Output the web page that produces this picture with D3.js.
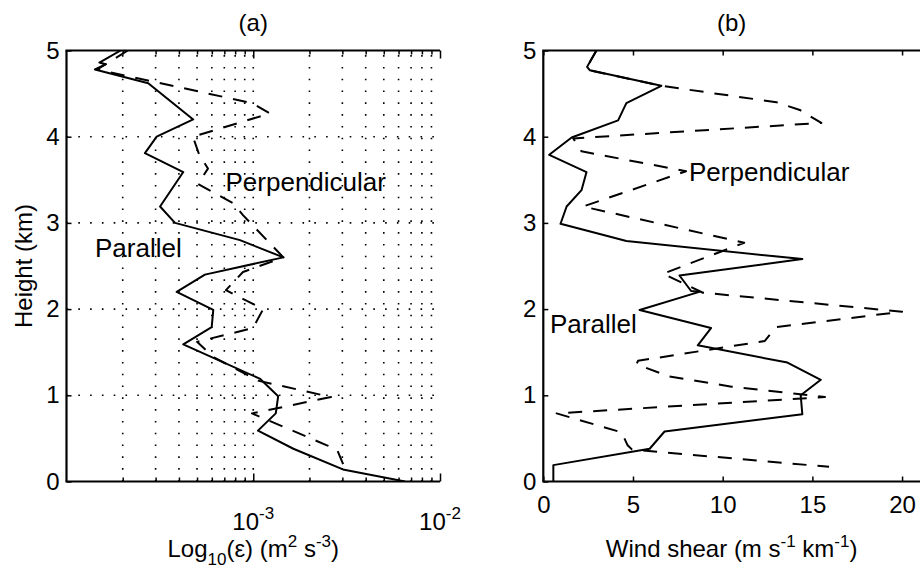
<!DOCTYPE html>
<html><head><meta charset="utf-8">
<script src="https://cdn.jsdelivr.net/npm/d3@7"></script>
<style>
body{margin:0;background:#fff}
text{font-family:"Liberation Sans",Arial,Helvetica,sans-serif;fill:#000}
</style>
</head><body>
<svg id="c" width="922" height="572"></svg>
<script>
// ---------- DATA ----------
// Panel (a): dissipation rate epsilon (m^2 s^-3) vs height (km)
const parA_height = [5.00,4.86,4.84,4.78,4.62,4.20,4.00,3.81,3.59,3.19,3.00,2.80,2.60,2.40,2.20,1.99,1.79,1.59,1.19,0.99,0.79,0.59,0.38,0.14,0.00];
const parA_eps    = [1.95e-4,1.50e-4,1.62e-4,1.42e-4,2.74e-4,4.77e-4,3.04e-4,2.63e-4,4.22e-4,3.17e-4,3.81e-4,8.49e-4,1.45e-3,5.51e-4,3.89e-4,6.11e-4,5.99e-4,4.22e-4,1.09e-3,1.36e-3,1.32e-3,1.06e-3,1.64e-3,3.02e-3,6.5e-3];
const perA_height = [5.00,4.78,4.39,4.27,4.00,3.80,3.63,3.45,3.23,3.09,2.60,2.43,2.22,2.00,1.78,1.62,1.44,1.17,0.98,0.79,0.42,0.37,0.18];
const perA_eps    = [2.13e-4,1.46e-4,9.84e-4,1.23e-3,4.75e-4,5.12e-4,5.72e-4,5.06e-4,7.79e-4,8.81e-4,1.45e-3,8.81e-4,7.14e-4,1.13e-3,9.96e-4,5.00e-4,6.16e-4,1.06e-3,2.61e-3,9.84e-4,2.48e-3,2.81e-3,3.06e-3];
// Panel (b): wind shear (m s^-1 km^-1) vs height (km)
const parB_height = [5.00,4.81,4.77,4.59,4.39,4.19,3.99,3.79,3.59,3.38,3.19,2.99,2.85,2.79,2.58,2.39,2.21,2.20,1.99,1.78,1.58,1.38,1.18,1.00,0.78,0.58,0.38,0.19,0.00];
const parB_shear  = [2.96,2.44,2.60,6.58,4.63,4.17,1.58,0.33,2.41,2.13,1.30,0.96,3.52,4.63,14.44,7.59,8.24,8.70,5.37,9.35,8.61,13.61,15.47,14.35,14.44,6.76,5.93,0.56,0.56];
const perB_height = [5.00,4.81,4.77,4.59,4.40,4.31,4.16,3.98,3.83,3.60,3.19,2.77,2.41,2.19,1.97,1.79,1.63,1.40,1.36,1.22,1.10,0.98,0.79,0.57,0.42,0.37,0.17];
const perB_shear  = [2.96,2.44,2.60,6.58,13.0,14.3,15.5,1.67,2.13,7.96,2.22,11.2,6.67,8.90,20.0,12.97,12.35,5.28,5.20,7.00,10.5,15.7,0.74,4.37,4.70,4.95,15.93];
// Ticks / labels
const heightTicks = [0,1,2,3,4,5];
const epsMinorTicks = [2e-4,3e-4,4e-4,5e-4,6e-4,7e-4,8e-4,9e-4,2e-3,3e-3,4e-3,5e-3,6e-3,7e-3,8e-3,9e-3];
const epsMajorTicks = [1e-3,1e-2];
const epsTickLabels = [["10","-3"],["10","-2"]];
const shearTicks = [0,5,10,15,20];
const panelTitles = ["(a)","(b)"];

// ---------- SCALES ----------
const svg = d3.select("#c");
const yTop = 50.5, yBot = 481.5;
const yS = d3.scaleLinear().domain([0,5]).range([yBot,yTop]);
const xA = d3.scaleLog().domain([1e-4,1e-2]).range([66.5,440]);
const xB = d3.scaleLinear().domain([0,21]).range([543.3,920]);

const defs = svg.append("defs");
defs.append("clipPath").attr("id","clipA").append("rect")
  .attr("x",xA.range()[0]).attr("y",yTop).attr("width",xA.range()[1]-xA.range()[0]).attr("height",yBot-yTop);
defs.append("clipPath").attr("id","clipB").append("rect")
  .attr("x",xB.range()[0]).attr("y",yTop-2).attr("width",xB.range()[1]-xB.range()[0]).attr("height",yBot-yTop+4);

// ---------- PANEL (a) GRID ----------
const gGrid = svg.append("g").attr("stroke","#000").attr("stroke-width",1.6).attr("stroke-dasharray","1.6,10.2");
gGrid.selectAll("line.v").data(epsMinorTicks.concat([1e-3])).join("line").attr("class","v")
  .attr("x1",d=>xA(d)).attr("x2",d=>xA(d)).attr("y1",yBot).attr("y2",yTop);
gGrid.selectAll("line.h").data([1,2,3,4]).join("line").attr("class","h")
  .attr("x1",xA.range()[0]).attr("x2",xA.range()[1]).attr("y1",d=>yS(d)).attr("y2",d=>yS(d));

// ---------- AXES ----------
function styleAxis(g){
  g.selectAll(".domain").remove();
  g.selectAll("line").attr("stroke","#000").attr("stroke-width",1.5);
  g.selectAll("text").attr("font-size",24).attr("fill","#000");
}
// panel a
svg.append("g").attr("transform",`translate(${xA.range()[0]},0)`)
  .call(d3.axisLeft(yS).tickValues(heightTicks).tickSize(-5).tickPadding(7).tickFormat(d3.format("d"))).call(styleAxis);
svg.append("g").attr("transform",`translate(0,${yBot})`)
  .call(d3.axisBottom(xA).tickValues(epsMinorTicks).tickSize(-4).tickFormat("")).call(styleAxis);
svg.append("g").attr("transform",`translate(0,${yBot})`)
  .call(d3.axisBottom(xA).tickValues(epsMajorTicks).tickSize(-8).tickFormat("")).call(styleAxis);
svg.append("g").attr("transform",`translate(0,${yTop})`)
  .call(d3.axisTop(xA).tickValues(epsMinorTicks).tickSize(-4).tickFormat("")).call(styleAxis);
svg.append("g").attr("transform",`translate(0,${yTop})`)
  .call(d3.axisTop(xA).tickValues(epsMajorTicks).tickSize(-8).tickFormat("")).call(styleAxis);
// frame lines a
const frame = svg.append("g").attr("stroke","#000").attr("stroke-width",2.2).attr("fill","none");
frame.append("line").attr("x1",xA.range()[0]).attr("x2",xA.range()[0]).attr("y1",yTop).attr("y2",yBot);
frame.append("line").attr("x1",xA.range()[0]-1).attr("x2",xA.range()[1]).attr("y1",yBot).attr("y2",yBot);
frame.append("line").attr("x1",xA.range()[0]-1).attr("x2",xA.range()[1]).attr("y1",yTop).attr("y2",yTop);
// eps tick labels
const lab = svg.append("g");
epsMajorTicks.forEach((v,i)=>{
  const t = lab.append("text").attr("x",xA(v)).attr("y",530).attr("text-anchor","middle").attr("font-size",24);
  t.append("tspan").text(epsTickLabels[i][0]);
  t.append("tspan").attr("dy",-11).attr("font-size",17).text(epsTickLabels[i][1]);
});

// panel b
svg.append("g").attr("transform",`translate(${xB.range()[0]},0)`)
  .call(d3.axisLeft(yS).tickValues(heightTicks).tickSize(-5).tickPadding(7).tickFormat(d3.format("d"))).call(styleAxis);
svg.append("g").attr("transform",`translate(0,${yBot})`)
  .call(d3.axisBottom(xB).tickValues(shearTicks).tickSize(-5).tickPadding(14)).call(styleAxis);
svg.append("g").attr("transform",`translate(0,${yTop})`)
  .call(d3.axisTop(xB).tickValues(shearTicks).tickSize(-5).tickFormat("")).call(styleAxis);
frame.append("line").attr("x1",xB.range()[0]).attr("x2",xB.range()[0]).attr("y1",yTop).attr("y2",yBot);
frame.append("line").attr("x1",xB.range()[0]-1).attr("x2",xB.range()[1]).attr("y1",yBot).attr("y2",yBot);
frame.append("line").attr("x1",xB.range()[0]-1).attr("x2",xB.range()[1]).attr("y1",yTop).attr("y2",yTop);

// ---------- LINES ----------
function series(h,v){ return h.map((d,i)=>({h:d,v:v[i]})); }
const lineA = d3.line().x(d=>xA(d.v)).y(d=>yS(d.h));
const lineB = d3.line().x(d=>xB(d.v)).y(d=>yS(d.h));
const gA = svg.append("g").attr("clip-path","url(#clipA)").attr("fill","none").attr("stroke","#000").attr("stroke-width",2).attr("stroke-linejoin","round");
gA.append("path").attr("d",lineA(series(parA_height,parA_eps)));
gA.append("path").attr("d",lineA(series(perA_height,perA_eps))).attr("stroke-dasharray","14,11");
const gB = svg.append("g").attr("clip-path","url(#clipB)").attr("fill","none").attr("stroke","#000").attr("stroke-width",2).attr("stroke-linejoin","round");
gB.append("path").attr("d",lineB(series(parB_height,parB_shear)));
gB.append("path").attr("d",lineB(series(perB_height,perB_shear))).attr("stroke-dasharray","14,11");

// ---------- TEXT ----------
svg.append("text").attr("x",(xA.range()[0]+xA.range()[1])/2).attr("y",31).attr("text-anchor","middle").attr("font-size",24).text(panelTitles[0]);
svg.append("text").attr("x",(xB.range()[0]+xB.range()[1])/2).attr("y",31).attr("text-anchor","middle").attr("font-size",24).text(panelTitles[1]);
svg.append("text").attr("transform",`translate(32,${(yTop+yBot)/2}) rotate(-90)`).attr("text-anchor","middle").attr("font-size",24).text("Height (km)");

const xlA = svg.append("text").attr("x",(xA.range()[0]+xA.range()[1])/2).attr("y",557).attr("text-anchor","middle").attr("font-size",24);
xlA.append("tspan").text("Log");
xlA.append("tspan").attr("dy",8).attr("font-size",17).text("10");
xlA.append("tspan").attr("dy",-8).text("(ε) (m");
xlA.append("tspan").attr("dy",-10).attr("font-size",17).text("2");
xlA.append("tspan").attr("dy",10).text(" s");
xlA.append("tspan").attr("dy",-10).attr("font-size",17).text("-3");
xlA.append("tspan").attr("dy",10).text(")");

const xlB = svg.append("text").attr("x",(xB.range()[0]+xB.range()[1])/2).attr("y",557).attr("text-anchor","middle").attr("font-size",24);
xlB.append("tspan").text("Wind shear (m s");
xlB.append("tspan").attr("dy",-10).attr("font-size",17).text("-1");
xlB.append("tspan").attr("dy",10).text(" km");
xlB.append("tspan").attr("dy",-10).attr("font-size",17).text("-1");
xlB.append("tspan").attr("dy",10).text(")");

const ann = [
  {x:xA.range()[0]+159, y:181.7, t:"Perpendicular"},
  {x:xA.range()[0]+28.5, y:248, t:"Parallel"},
  {x:xB.range()[0]+145.7, y:171.7, t:"Perpendicular"},
  {x:xB.range()[0]+6.7, y:323.3, t:"Parallel"}
];
svg.append("g").selectAll("text").data(ann).join("text")
  .attr("x",d=>d.x).attr("y",d=>d.y).attr("dy","0.36em").attr("font-size",26).text(d=>d.t);
</script>
</body></html>
